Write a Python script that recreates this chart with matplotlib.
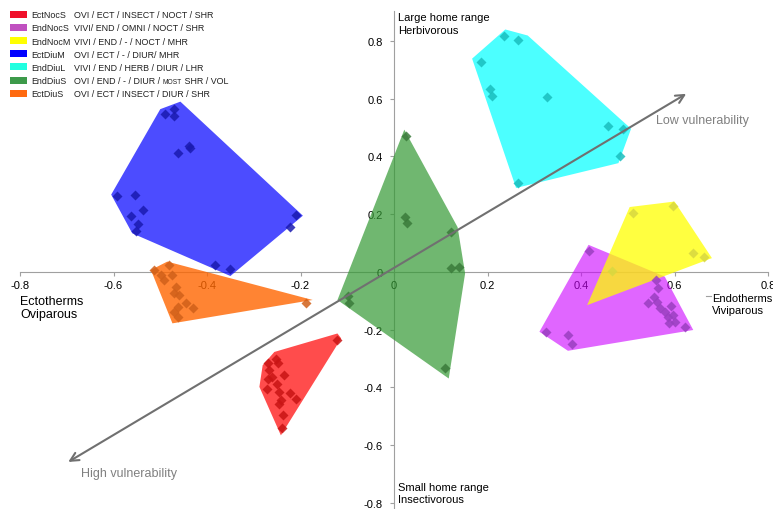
import numpy as np
import matplotlib
matplotlib.use("Agg")
import matplotlib.pyplot as plt
from matplotlib.patches import Polygon, Rectangle
from matplotlib.ticker import FuncFormatter

plt.rcParams['font.family'] = ['Liberation Sans', 'DejaVu Sans']

# legend
groups = ["EctNocS", "EndNocS", "EndNocM", "EctDiuM", "EndDiuL", "EndDiuS", "EctDiuS"]
descr = ["OVI / ECT / INSECT / NOCT / SHR",
         "VIVI/ END / OMNI / NOCT / SHR",
         "VIVI / END / - / NOCT / MHR",
         "OVI / ECT / - / DIUR/ MHR",
         "VIVI / END / HERB / DIUR / LHR",
         "OVI / END / - / DIUR / |MOST| SHR / VOL",
         "OVI / ECT / INSECT / DIUR / SHR"]
legend_cols = ["#f0102a", "#c050c0", "#ffff00", "#0000ff", "#20ffe0", "#3d9a4a", "#ff6a10"]
fill_cols = ["#ff0000", "#cc00ff", "#ffff00", "#0000ff", "#00ffff", "#339933", "#ff6600"]
fill_alpha = [0.7, 0.6, 0.75, 0.7, 0.7, 0.7, 0.8]
mark_cols = ["#c81414", "#9a3fc0", "#d8d840", "#1a1ab0", "#1abebe", "#3a7a3a", "#d0601a"]

# points (x, y) per group
ectnocs_x = [-0.122, -0.270, -0.253, -0.249, -0.267, -0.236, -0.270, -0.260, -0.251, -0.272, -0.246, -0.222, -0.242, -0.210, -0.246, -0.238, -0.240]
ectnocs_y = [-0.234, -0.317, -0.300, -0.317, -0.340, -0.358, -0.369, -0.363, -0.387, -0.404, -0.415, -0.419, -0.444, -0.441, -0.456, -0.497, -0.539]
endnocs_x = [0.417, 0.325, 0.372, 0.381, 0.561, 0.543, 0.557, 0.563, 0.568, 0.579, 0.592, 0.585, 0.597, 0.600, 0.589, 0.622, 0.564]
endnocs_y = [0.074, -0.207, -0.219, -0.250, -0.028, -0.109, -0.086, -0.103, -0.126, -0.138, -0.118, -0.155, -0.149, -0.173, -0.178, -0.190, -0.057]
endnocm_x = [0.511, 0.597, 0.640, 0.663, 0.467]
endnocm_y = [0.204, 0.229, 0.065, 0.053, 0.003]
ectdium_x = [-0.490, -0.470, -0.470, -0.462, -0.438, -0.437, -0.592, -0.555, -0.538, -0.562, -0.548, -0.552, -0.210, -0.222, -0.382, -0.350]
ectdium_y = [0.546, 0.566, 0.540, 0.413, 0.438, 0.430, 0.263, 0.265, 0.213, 0.194, 0.165, 0.142, 0.196, 0.157, 0.024, 0.012]
enddiul_x = [0.235, 0.266, 0.186, 0.206, 0.210, 0.328, 0.458, 0.490, 0.483, 0.266]
enddiul_y = [0.817, 0.803, 0.727, 0.634, 0.609, 0.607, 0.507, 0.496, 0.403, 0.308]
enddius_x = [0.026, 0.024, 0.028, 0.122, 0.122, 0.139, -0.099, -0.096, 0.110]
enddius_y = [0.470, 0.192, 0.169, 0.138, 0.013, 0.018, -0.082, -0.107, -0.334]
ectdius_x = [-0.513, -0.499, -0.492, -0.481, -0.474, -0.470, -0.460, -0.467, -0.445, -0.431, -0.463, -0.470, -0.463, -0.188]
ectdius_y = [0.007, -0.010, -0.028, 0.024, -0.010, -0.074, -0.080, -0.051, -0.109, -0.126, -0.120, -0.138, -0.155, -0.109]

# hull outlines as drawn
ectnocs_hx = [-0.121, -0.256, -0.281, -0.288, -0.242, -0.113]
ectnocs_hy = [-0.213, -0.277, -0.323, -0.398, -0.566, -0.230]
endnocs_hx = [0.416, 0.579, 0.640, 0.372, 0.311]
endnocs_hy = [0.094, -0.016, -0.201, -0.273, -0.207]
endnocm_hx = [0.504, 0.600, 0.680, 0.413]
endnocm_hy = [0.225, 0.244, 0.048, -0.115]
ectdium_hx = [-0.605, -0.500, -0.457, -0.195, -0.350, -0.560]
ectdium_hy = [0.268, 0.564, 0.590, 0.195, -0.014, 0.134]
enddiul_hx = [0.167, 0.238, 0.286, 0.507, 0.480, 0.261]
enddiul_hy = [0.739, 0.840, 0.819, 0.496, 0.377, 0.291]
enddius_hx = [0.022, 0.136, 0.152, 0.117, -0.121]
enddius_hy = [0.493, 0.155, -0.005, -0.369, -0.097]
ectdius_hx = [-0.520, -0.485, -0.174, -0.474]
ectdius_hy = [0.007, 0.036, -0.097, -0.178]

pts = [(ectnocs_x, ectnocs_y), (endnocs_x, endnocs_y), (endnocm_x, endnocm_y),
       (ectdium_x, ectdium_y), (enddiul_x, enddiul_y), (enddius_x, enddius_y),
       (ectdius_x, ectdius_y)]
hulls = [(ectnocs_hx, ectnocs_hy), (endnocs_hx, endnocs_hy), (endnocm_hx, endnocm_hy),
         (ectdium_hx, ectdium_hy), (enddiul_hx, enddiul_hy), (enddius_hx, enddius_hy),
         (ectdius_hx, ectdius_hy)]
draw_order = [3, 6, 0, 5, 4, 1, 2]

fig = plt.figure(figsize=(7.73, 5.10), dpi=100)
ax = fig.add_axes([0.0259, 0.0, 0.9677, 0.9765])
ax.set_xlim(-0.8, 0.8)
ax.set_ylim(-0.821, 0.904)

for i in draw_order:
    hx, hy = hulls[i]
    ax.add_patch(Polygon(np.column_stack([hx, hy]), closed=True, facecolor=fill_cols[i],
                         alpha=fill_alpha[i], edgecolor='none', zorder=2))
for i in draw_order:
    px, py = pts[i]
    ax.plot(px, py, 'D', ms=5, color=mark_cols[i], alpha=0.85, mec='none', zorder=3)

# axes through origin
for s in ['right', 'top']:
    ax.spines[s].set_visible(False)
for s in ['left', 'bottom']:
    ax.spines[s].set_position('zero')
    ax.spines[s].set_color('#a0a0a0')
    ax.spines[s].set_zorder(1)
ax.set_xticks(np.arange(-0.8, 0.81, 0.2))
ax.set_yticks(np.arange(-0.8, 0.81, 0.2))
fmt = FuncFormatter(lambda v, p: "0" if abs(v) < 1e-9 else ("%.1f" % v))
ax.xaxis.set_major_formatter(fmt)
ax.yaxis.set_major_formatter(fmt)
ax.tick_params(axis='both', direction='out', length=3, color='#a0a0a0', labelsize=8)
ax.tick_params(axis='x', pad=3)
ax.tick_params(axis='y', pad=5)

# vulnerability arrow
ax.annotate('', xy=(0.630, 0.622), xytext=(-0.702, -0.663),
            arrowprops=dict(arrowstyle='<->', color='#707070', lw=1.5, mutation_scale=15),
            zorder=4)
ax.text(0.561, 0.528, "Low vulnerability", color='#808080', fontsize=9, va='center', ha='left')
ax.text(-0.670, -0.698, "High vulnerability", color='#808080', fontsize=9, va='center', ha='left')

ax.text(0.009, 0.900, "Large home range\nHerbivorous", fontsize=8, va='top', ha='left', linespacing=1.3)
ax.text(0.009, -0.727, "Small home range\nInsectivorous", fontsize=8, va='top', ha='left', linespacing=1.3)
ax.text(-0.8, -0.080, "Ectotherms\nOviparous", fontsize=9, va='top', ha='left', linespacing=1.15)
ax.text(0.681, -0.073, "Endotherms\nViviparous", fontsize=8, va='top', ha='left', linespacing=1.25)
ax.plot([0.668, 0.678], [-0.083, -0.083], color='#a0a0a0', lw=0.8, clip_on=False)

# legend in figure pixels
W, H = 773.0, 510.0
rend = fig.canvas.get_renderer()
for k, (g, d, c) in enumerate(zip(groups, descr, legend_cols)):
    yc = 15 + k * 13.2
    yb = yc + 3.2
    fig.patches.append(Rectangle((10 / W, 1 - (yc + 3.5) / H), 17 / W, 7 / H,
                                 facecolor=c, edgecolor='none', transform=fig.transFigure))
    fig.text(31 / W, 1 - yb / H, g, fontsize=6.4, va='baseline', ha='left', color='#202020')
    xpos = 74.0
    for j, part in enumerate(d.split('|')):
        small = (j % 2 == 1)
        t = fig.text(xpos / W, 1 - yb / H, part, fontsize=4.8 if small else 6.4,
                     va='baseline', ha='left', color='#202020')
        xpos += t.get_window_extent(rend).width

fig.savefig("out.png", dpi=100)
